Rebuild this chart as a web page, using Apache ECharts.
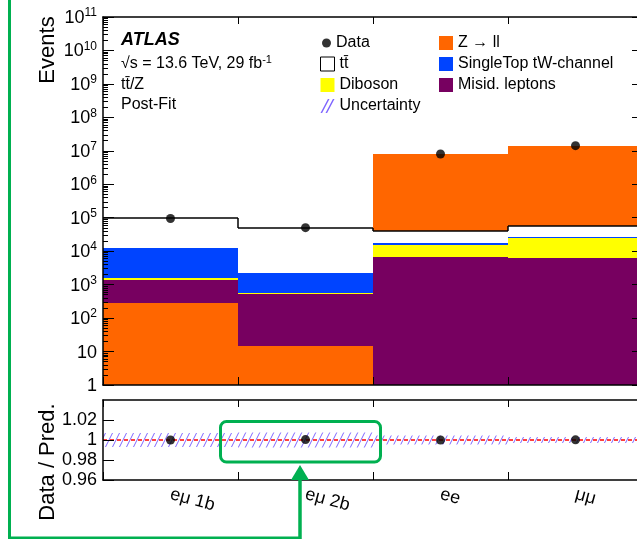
<!DOCTYPE html>
<html>
<head>
<meta charset="utf-8">
<script src="https://cdn.jsdelivr.net/npm/echarts@6/dist/echarts.min.js"></script>
<style>
  html, body { margin: 0; padding: 0; background: #fff; }
  #chart { width: 637px; height: 539px; }
</style>
</head>
<body>
<div id="chart"></div>
<script>
// ---- event yields per region (post-fit) ----
const categories = ['eμ 1b', 'eμ 2b', 'ee', 'μμ'];
const dataEvents = [94900, 50400, 8.05e6, 1.426e7];
const zll = [288, 14.7, 8.01e6, 1.42e7];
const misid = [1090, 510, 6850, 6390];
const diboson = [237, 25, 8450, 17900];
const singleTop = [10590, 1730, 2280, 2800];
const ttbar = [82700, 48100, 22570, 30700];
const relUncertainty = [0.007, 0.0075, 0.0045, 0.003];

// stacking order (bottom -> top) in each region
const stackOrder = [
  ['zll', 'misid', 'diboson', 'singleTop', 'ttbar'],
  ['zll', 'misid', 'diboson', 'singleTop', 'ttbar'],
  ['misid', 'diboson', 'singleTop', 'ttbar', 'zll'],
  ['misid', 'diboson', 'singleTop', 'ttbar', 'zll']
];

// axis ticks
const eventTicks = [1, 10, 1e2, 1e3, 1e4, 1e5, 1e6, 1e7, 1e8, 1e9, 1e10, 1e11];

const FONT = '"Liberation Sans", Arial, Helvetica, sans-serif';
const GREEN = '#00b050';
const HATCH = '#7f66ff';

const processes = {
  zll:       { name: 'Z → ll',               values: zll,       color: '#ff6600' },
  misid:     { name: 'Misid. leptons',       values: misid,     color: '#770060' },
  diboson:   { name: 'Diboson',              values: diboson,   color: '#ffff00' },
  singleTop: { name: 'SingleTop tW-channel', values: singleTop, color: '#0044ff' },
  ttbar:     { name: 'tt\u0304',             values: ttbar,     color: '#ffffff' }
};

const totals = categories.map((_, i) =>
  Object.keys(processes).reduce((s, k) => s + processes[k].values[i], 0));
const ratio = categories.map((_, i) => dataEvents[i] / totals[i]);

// minor ticks of the log axis: 2..9 x 10^n
const minorTicks = [];
for (let d = 0; d < 11; d++) for (let k = 2; k <= 9; k++) minorTicks.push(k * Math.pow(10, d));

function cumulativeBelow(key, i) {
  let cum = 0;
  for (const k of stackOrder[i]) {
    if (k === key) break;
    cum += processes[k].values[i];
  }
  return cum;
}

function stackRenderer(key) {
  return function (params, api) {
    const i = api.value(0);
    const v = api.value(1);
    const cum = cumulativeBelow(key, i);
    const bw = api.size([1, 0])[0];
    const cx = api.coord([i, 1])[0];
    const yLow = Math.round(api.coord([i, Math.max(cum, 1)])[1]);
    const yHigh = Math.round(api.coord([i, cum + v])[1]);
    const x0 = Math.round(cx - bw / 2);
    const x1 = Math.round(cx + bw / 2);
    const children = [{
      type: 'rect',
      shape: { x: x0, y: yHigh, width: x1 - x0, height: yLow - yHigh },
      style: { fill: processes[key].color }
    }];
    if (key === 'ttbar') {
      children.push({
        type: 'line',
        shape: { x1: x0, y1: yHigh, x2: x1, y2: yHigh },
        style: { stroke: '#000', lineWidth: 1.5 }
      });
      if (i > 0) {
        const prevTop = cumulativeBelow('ttbar', i - 1) + ttbar[i - 1];
        const yPrev = Math.round(api.coord([i - 1, prevTop])[1]);
        children.push({
          type: 'line',
          shape: { x1: x0, y1: yPrev, x2: x0, y2: yHigh },
          style: { stroke: '#000', lineWidth: 1.5 }
        });
      }
    }
    return { type: 'group', children: children };
  };
}

function hatchCanvas() {
  const c = document.createElement('canvas');
  c.width = 7; c.height = 14;
  const g = c.getContext('2d');
  g.strokeStyle = HATCH;
  g.lineWidth = 1;
  g.beginPath();
  g.moveTo(-7, 14); g.lineTo(0, 0);
  g.moveTo(0, 14); g.lineTo(7, 0);
  g.moveTo(7, 14); g.lineTo(14, 0);
  g.stroke();
  return c;
}
const hatchFill = { image: hatchCanvas(), repeat: 'repeat' };

const processSeries = ['zll', 'misid', 'diboson', 'singleTop', 'ttbar'].map(key => ({
  type: 'custom',
  name: processes[key].name,
  xAxisIndex: 0,
  yAxisIndex: 0,
  clip: true,
  z: 2,
  itemStyle: { color: processes[key].color },
  encode: { x: 0, y: 1 },
  renderItem: stackRenderer(key),
  data: processes[key].values.map((v, i) => [i, v])
}));

function logLabel(v) {
  const e = Math.round(Math.log10(v));
  if (e === 0) return '{b|1}';
  if (e === 1) return '{b|10}';
  return '{b|10}{s|' + e + '}';
}

const axisColor = '#000';
const catAxis = (grid, pos, extra) => Object.assign({
  type: 'category',
  data: categories,
  gridIndex: grid,
  position: pos,
  boundaryGap: true,
  z: 10,
  axisLine: { show: true, lineStyle: { color: axisColor, width: 1.5 } },
  axisTick: { show: true, inside: true, length: 8, interval: 0, lineStyle: { color: axisColor, width: 1 } },
  axisLabel: { show: false },
  splitLine: { show: false }
}, extra || {});

const chart = echarts.init(document.getElementById('chart'), null, { renderer: 'canvas' });

const legendText = { fontSize: 16, fontFamily: FONT, color: '#000' };

const option = {
  animation: false,
  backgroundColor: '#fff',
  textStyle: { fontFamily: FONT, color: '#000' },
  grid: [
    { left: 103, top: 17, width: 540, height: 368, outerBoundsMode: 'none', containLabel: false },
    { left: 103, top: 400, width: 540, height: 80, outerBoundsMode: 'none', containLabel: false }
  ],
  xAxis: [
    catAxis(0, 'bottom'),
    catAxis(0, 'top', { axisTick: { show: true, inside: true, length: 7, interval: 0, lineStyle: { color: axisColor } } }),
    catAxis(1, 'bottom', {
      axisLabel: { show: true, rotate: -15, margin: 14, fontSize: 18, color: '#000', fontFamily: FONT, interval: 0 }
    }),
    catAxis(1, 'top', { axisTick: { show: true, inside: true, length: 7, interval: 0, lineStyle: { color: axisColor } } })
  ],
  yAxis: [
    {
      type: 'log', logBase: 10, min: 1, max: 1e11, gridIndex: 0, position: 'left', z: 10,
      axisLine: { show: true, lineStyle: { color: axisColor, width: 1.5 } },
      axisTick: { show: true, inside: true, length: 11, customValues: eventTicks, lineStyle: { color: axisColor } },
      axisLabel: {
        show: true, customValues: eventTicks, margin: 6, color: '#000',
        formatter: logLabel,
        rich: {
          b: { fontSize: 18, fontFamily: FONT, color: '#000', lineHeight: 20, verticalAlign: 'bottom' },
          s: { fontSize: 12, fontFamily: FONT, color: '#000', lineHeight: 12, verticalAlign: 'top' }
        }
      },
      splitLine: { show: false }
    },
    {
      type: 'log', logBase: 10, min: 1, max: 1e11, gridIndex: 0, position: 'left', z: 10,
      axisLine: { show: false },
      axisTick: { show: true, inside: true, length: 5, customValues: minorTicks, lineStyle: { color: axisColor } },
      axisLabel: { show: false },
      splitLine: { show: false }
    },
    {
      type: 'log', logBase: 10, min: 1, max: 1e11, gridIndex: 0, position: 'right', z: 10,
      axisLine: { show: true, lineStyle: { color: axisColor, width: 1.5 } },
      axisTick: { show: true, inside: true, length: 11, customValues: eventTicks, lineStyle: { color: axisColor } },
      axisLabel: { show: false },
      splitLine: { show: false }
    },
    {
      type: 'value', min: 0.96, max: 1.04, interval: 0.02, gridIndex: 1, position: 'left', z: 10,
      axisLine: { show: true, lineStyle: { color: axisColor, width: 1.5 } },
      axisTick: { show: true, inside: true, length: 11, lineStyle: { color: axisColor } },
      axisLabel: {
        show: true, margin: 6, fontSize: 18, color: '#000', fontFamily: FONT, showMaxLabel: false,
        formatter: v => (Math.abs(v - 1) < 1e-9 ? '1' : v.toFixed(2))
      },
      splitLine: { show: false }
    }
  ],
  legend: [
    {
      orient: 'vertical', left: 322, top: 35, padding: 0, itemWidth: 9, itemHeight: 9, itemGap: 5,
      selectedMode: false, textStyle: legendText,
      data: [{ name: 'Data', icon: 'circle' }]
    },
    {
      orient: 'vertical', left: 320, top: 56, padding: 0, itemWidth: 14, itemHeight: 14, itemGap: 5,
      selectedMode: false, textStyle: legendText,
      data: [
        { name: 'tt\u0304', icon: 'rect', itemStyle: { color: '#fff', borderColor: '#000', borderWidth: 1 } },
        { name: 'Diboson', icon: 'rect' },
        { name: 'Uncertainty', icon: 'path://M0 14 L1.6 14 L9 0 L7.4 0 Z M5 14 L6.6 14 L14 0 L12.4 0 Z' }
      ]
    },
    {
      orient: 'vertical', left: 439, top: 35, padding: 0, itemWidth: 14, itemHeight: 14, itemGap: 5,
      selectedMode: false, textStyle: legendText,
      data: [
        { name: 'Z → ll', icon: 'rect' },
        { name: 'SingleTop tW-channel', icon: 'rect' },
        { name: 'Misid. leptons', icon: 'rect' }
      ]
    }
  ],
  series: processSeries.concat([
    {
      type: 'scatter', name: 'Data', xAxisIndex: 0, yAxisIndex: 0, z: 5,
      symbol: 'circle', symbolSize: 9,
      itemStyle: { color: '#000' },
      data: dataEvents.map((v, i) => [i, v])
    },
    {
      type: 'custom', name: 'Uncertainty', xAxisIndex: 2, yAxisIndex: 3, z: 3, clip: true,
      itemStyle: { color: HATCH },
      encode: { x: 0, y: 1 },
      renderItem: function (params, api) {
        const i = api.value(0);
        const u = api.value(2);
        const bw = api.size([1, 0])[0];
        const cx = api.coord([i, 1])[0];
        const yTop = api.coord([i, 1 + u])[1];
        const yBot = api.coord([i, 1 - u])[1];
        return {
          type: 'rect',
          shape: { x: cx - bw / 2, y: yTop, width: bw, height: yBot - yTop },
          style: { fill: hatchFill }
        };
      },
      data: relUncertainty.map((u, i) => [i, 1, u])
    },
    {
      type: 'scatter', name: 'Data / Pred.', xAxisIndex: 2, yAxisIndex: 3, z: 6,
      symbol: 'circle', symbolSize: 9,
      itemStyle: { color: '#000' },
      data: ratio.map((r, i) => [i, r]),
      markLine: {
        silent: true, symbol: 'none', z: 4,
        label: { show: false },
        lineStyle: { color: '#ff0000', type: [4, 3], width: 1.5 },
        data: [{ yAxis: 1 }]
      }
    }
  ]),
  graphic: [
    { type: 'text', left: 121, top: 31, z: 20,
      style: { text: 'ATLAS', font: 'italic bold 18px ' + FONT, fill: '#000' } },
    { type: 'text', left: 121, top: 54, z: 20,
      style: {
        text: '{n|√s = 13.6 TeV, 29 fb}{s|-1}', fill: '#000',
        rich: {
          n: { fontSize: 16, fontFamily: FONT, lineHeight: 18, verticalAlign: 'bottom' },
          s: { fontSize: 11, fontFamily: FONT, lineHeight: 11, verticalAlign: 'top' }
        }
      } },
    { type: 'text', left: 121, top: 77, z: 20,
      style: { text: 'tt\u0304/Z', font: '16px ' + FONT, fill: '#000' } },
    { type: 'text', left: 121, top: 97, z: 20,
      style: { text: 'Post-Fit', font: '16px ' + FONT, fill: '#000' } },
    { type: 'text', x: 48, y: 50, rotation: Math.PI / 2, z: 20,
      style: { text: 'Events', font: '22px ' + FONT, fill: '#000', align: 'center', verticalAlign: 'middle' } },
    { type: 'text', x: 48, y: 462, rotation: Math.PI / 2, z: 20,
      style: { text: 'Data / Pred.', font: '22px ' + FONT, fill: '#000', align: 'center', verticalAlign: 'middle' } },
    // highlight overlay
    { type: 'polyline', z: 30,
      shape: { points: [[9.5, 0], [9.5, 538], [300, 538]] },
      style: { stroke: GREEN, lineWidth: 3, fill: null } },
    { type: 'rect', z: 30,
      shape: { x: 220.5, y: 421.5, width: 160, height: 40.5, r: 6 },
      style: { stroke: GREEN, lineWidth: 3, fill: null } },
    { type: 'line', z: 30,
      shape: { x1: 300, y1: 540, x2: 300, y2: 478 },
      style: { stroke: GREEN, lineWidth: 3.5 } },
    { type: 'polygon', z: 30,
      shape: { points: [[291, 480], [309, 480], [300, 465]] },
      style: { fill: GREEN } }
  ]
};

chart.setOption(option);
</script>
</body>
</html>
